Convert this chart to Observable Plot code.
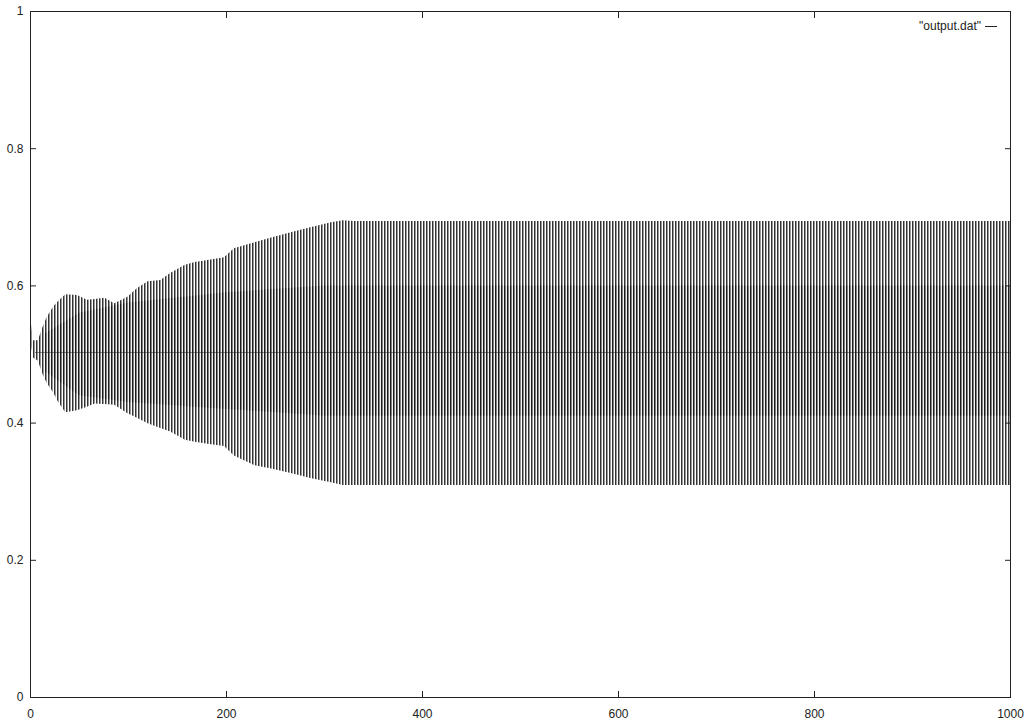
<!DOCTYPE html>
<html>
<head>
<meta charset="utf-8">
<script src="https://cdn.jsdelivr.net/npm/d3@7"></script>
<script src="https://cdn.jsdelivr.net/npm/@observablehq/plot@0.6"></script>
<style>
  html, body { margin: 0; padding: 0; background: #fff; }
  #wrap { position: relative; width: 1031px; height: 724px; }
  #legend { position: absolute; top: 19px; right: 34px; font: 12px "Liberation Sans", Arial, sans-serif; color: #222; display: flex; align-items: center; gap: 4px; }
  #legend .sample { display: inline-block; width: 12px; height: 0; border-top: 1px solid #222; }
</style>
</head>
<body>
<div id="wrap"><div id="legend"><span>"output.dat"</span><span class="sample"></span></div></div>
<script>
// Envelope of the "output.dat" signal
const knotX  = [0, 3, 8, 13, 17, 24, 28, 36, 48, 58, 66, 76, 86, 99, 109, 120, 133, 143, 158, 168, 181, 198, 208, 229, 246, 267, 287, 307, 319, 330, 400, 500, 600, 700, 800, 900, 1000];
const upper  = [0.557, 0.52, 0.52, 0.54, 0.554, 0.57, 0.576, 0.587, 0.586, 0.579, 0.58, 0.582, 0.574, 0.583, 0.596, 0.606, 0.608, 0.618, 0.630, 0.634, 0.637, 0.641, 0.654, 0.663, 0.670, 0.678, 0.685, 0.692, 0.695, 0.694, 0.694, 0.694, 0.694, 0.694, 0.694, 0.694, 0.694];
const lower  = [0.52, 0.495, 0.49, 0.47, 0.458, 0.443, 0.432, 0.415, 0.418, 0.423, 0.428, 0.427, 0.426, 0.414, 0.407, 0.399, 0.392, 0.387, 0.375, 0.372, 0.369, 0.366, 0.352, 0.338, 0.333, 0.326, 0.319, 0.313, 0.309, 0.309, 0.309, 0.309, 0.309, 0.309, 0.309, 0.309, 0.309];
// Dense core of the signal
const coreX     = [15, 50, 100, 200, 300, 330, 1000];
const coreUpper = [0.53, 0.56, 0.575, 0.59, 0.60, 0.60, 0.60];
const coreLower = [0.475, 0.44, 0.43, 0.42, 0.41, 0.41, 0.41];
const midlineValue = 0.503;
const midlineX = [5, 1000];

const xTicks = [0, 200, 400, 600, 800, 1000];
const yTicks = [0, 0.2, 0.4, 0.6, 0.8, 1];

const band = knotX.map((x, i) => ({x, lo: lower[i], hi: upper[i]}));
const core = coreX.map((x, i) => ({x, lo: coreLower[i], hi: coreUpper[i]}));

const fmt = d => String(d);

const chart = Plot.plot({
  width: 1031,
  height: 724,
  marginLeft: 30,
  marginRight: 21,
  marginTop: 11,
  marginBottom: 27,
  style: {fontFamily: "'Liberation Sans', Arial, sans-serif", fontSize: "12px", color: "#222", background: "#fff"},
  x: {domain: [0, 1000], label: null},
  y: {domain: [0, 1], label: null},
  marks: [
    Plot.areaY(band, {x: "x", y1: "lo", y2: "hi", fill: "url(#stripesOuter)"}),
    Plot.areaY(core, {x: "x", y1: "lo", y2: "hi", fill: "url(#stripesCore)"}),
    Plot.ruleY([midlineValue], {x1: midlineX[0], x2: midlineX[1], stroke: "#222", strokeOpacity: 0.55}),
    Plot.frame({stroke: "#222"}),
    Plot.axisX(xTicks, {anchor: "bottom", tickSize: 0, tickPadding: 12, tickFormat: fmt, label: null}),
    Plot.axisX(xTicks, {anchor: "bottom", tickSize: -6, tickFormat: () => "", label: null, stroke: "#222"}),
    Plot.axisX(xTicks, {anchor: "top", tickSize: -6, tickFormat: () => "", label: null, stroke: "#222"}),
    Plot.axisY(yTicks, {anchor: "left", tickSize: 0, tickPadding: 7, tickFormat: fmt, label: null}),
    Plot.axisY(yTicks, {anchor: "left", tickSize: -6, tickFormat: () => "", label: null, stroke: "#222"}),
    Plot.axisY(yTicks, {anchor: "right", tickSize: -6, tickFormat: () => "", label: null, stroke: "#222"})
  ]
});

// stripe textures for the dense oscillation
const ns = "http://www.w3.org/2000/svg";
const defs = document.createElementNS(ns, "defs");
function pattern(id, cols) {
  const p = document.createElementNS(ns, "pattern");
  p.setAttribute("id", id);
  p.setAttribute("patternUnits", "userSpaceOnUse");
  p.setAttribute("width", cols.length);
  p.setAttribute("height", 1);
  cols.forEach((c, i) => {
    const r = document.createElementNS(ns, "rect");
    r.setAttribute("x", i); r.setAttribute("y", 0);
    r.setAttribute("width", 1); r.setAttribute("height", 1);
    r.setAttribute("fill", c);
    p.appendChild(r);
  });
  defs.appendChild(p);
}
pattern("stripesOuter", ["#333333", "#999999", "#ffffff"]);
pattern("stripesCore", ["#1c1c1c", "#808080", "#f4f4f4"]);
chart.insertBefore(defs, chart.firstChild);

document.getElementById("wrap").prepend(chart);
</script>
</body>
</html>
